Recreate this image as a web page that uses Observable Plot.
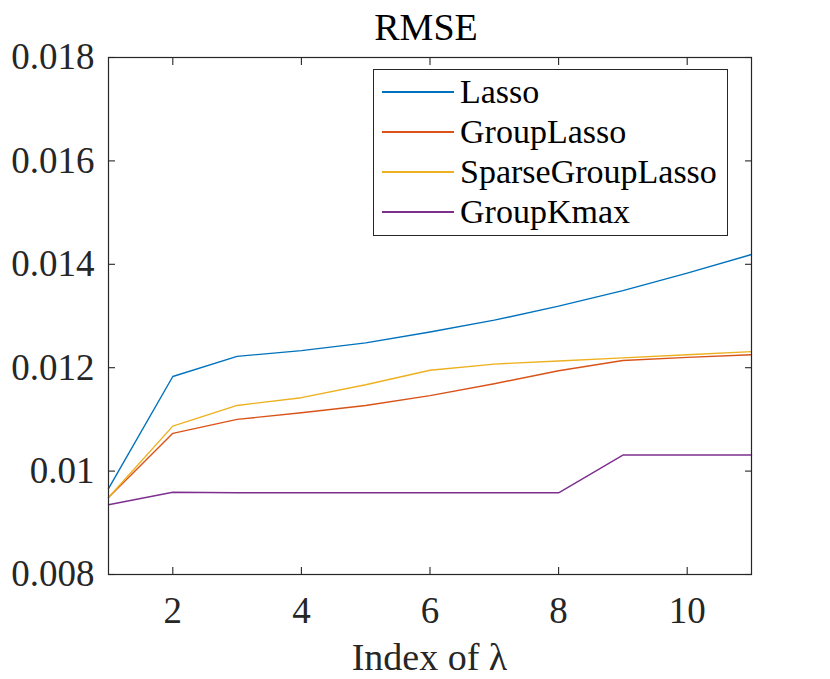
<!DOCTYPE html>
<html>
<head>
<meta charset="utf-8">
<script src="https://cdn.jsdelivr.net/npm/d3@7"></script>
<script src="https://cdn.jsdelivr.net/npm/@observablehq/plot@0.6"></script>
<style>
  html, body { margin: 0; padding: 0; background: #fff; }
  #wrap { position: relative; width: 830px; height: 679px; font-family: 'Liberation Serif', serif; color: #000; }
  #title { position: absolute; left: 0; width: 852px; top: 6px; text-align: center; font-size: 38px; line-height: 42px; }
  #xlabel { position: absolute; left: 0; width: 859px; top: 636px; text-align: center; font-size: 38px; line-height: 42px; color: #262626; }
  #legend { position: absolute; left: 373px; top: 69px; width: 355px; height: 167px; border: 1px solid #262626; background: #fff; box-sizing: border-box; }
  .row { position: absolute; left: 8px; height: 40px; display: flex; align-items: center; }
  .row .sw { width: 72px; height: 1.5px; margin-right: 6px; }
  .row .lb { font-size: 34px; line-height: 40px; white-space: nowrap; }
</style>
</head>
<body>
<div id="wrap">
  <div id="chart"></div>
  <div id="title">RMSE</div>
  <div id="xlabel">Index of λ</div>
  <div id="legend"></div>
</div>
<script>
const xIndex = [1, 2, 3, 4, 5, 6, 7, 8, 9, 10, 11];
const lasso = [0.00966, 0.01183, 0.01222, 0.01233, 0.01248, 0.01269, 0.01292, 0.01319, 0.01349, 0.01383, 0.01419];
const groupLasso = [0.00949, 0.01073, 0.01100, 0.01113, 0.01127, 0.01146, 0.01169, 0.01194, 0.01214, 0.01220, 0.01225];
const sparseGroupLasso = [0.00949, 0.01087, 0.01127, 0.01142, 0.01167, 0.01195, 0.01207, 0.01213, 0.01219, 0.01225, 0.01231];
const groupKmax = [0.00935, 0.00959, 0.00958, 0.00958, 0.00958, 0.00958, 0.00958, 0.00958, 0.01031, 0.01031, 0.01031];
const seriesNames = ["Lasso", "GroupLasso", "SparseGroupLasso", "GroupKmax"];
const seriesColors = ["#0072BD", "#D95319", "#EDB120", "#7E2F8E"];
const xTicks = [2, 4, 6, 8, 10];
const yTicks = [0.008, 0.010, 0.012, 0.014, 0.016, 0.018];
const yTickLabels = ["0.008", "0.01", "0.012", "0.014", "0.016", "0.018"];

const seriesValues = [lasso, groupLasso, sparseGroupLasso, groupKmax];
const rows = [];
seriesNames.forEach((name, i) => {
  xIndex.forEach((x, j) => rows.push({series: name, x, y: seriesValues[i][j]}));
});

const axisColor = "#262626";
const fontStack = "'Liberation Serif', serif";
const chart = Plot.plot({
  width: 830,
  height: 679,
  marginLeft: 108,
  marginRight: 79,
  marginTop: 57,
  marginBottom: 105,
  style: {fontFamily: fontStack, background: "#fff", color: axisColor, overflow: "visible"},
  x: {domain: [1, 11], axis: null},
  y: {domain: [0.008, 0.018], axis: null},
  color: {domain: seriesNames, range: seriesColors},
  marks: [
    Plot.line(rows, {x: "x", y: "y", z: "series", stroke: "series", strokeWidth: 1.4}),
    Plot.frame({stroke: axisColor, strokeWidth: 1.2}),
    Plot.axisX(xTicks, {anchor: "bottom", tickSize: 7, dy: -7, tickFormat: () => "", label: null, stroke: axisColor, strokeWidth: 1.1}),
    Plot.axisX(xTicks, {anchor: "top", tickSize: 7, dy: 7, tickFormat: () => "", label: null, stroke: axisColor, strokeWidth: 1.1}),
    Plot.axisY(yTicks, {anchor: "left", tickSize: 7, dx: 7, tickFormat: () => "", label: null, stroke: axisColor, strokeWidth: 1.1}),
    Plot.axisY(yTicks, {anchor: "right", tickSize: 7, dx: -7, tickFormat: () => "", label: null, stroke: axisColor, strokeWidth: 1.1}),
    Plot.axisX(xTicks, {anchor: "bottom", tickSize: 0, tickPadding: 22, fontSize: 37, fill: axisColor, label: null}),
    Plot.axisY(yTicks, {anchor: "left", tickSize: 0, tickPadding: 14, fontSize: 37, fill: axisColor, label: null,
      tickFormat: (d) => yTickLabels[yTicks.indexOf(d)]})
  ]
});
document.getElementById("chart").appendChild(chart);

const legend = document.getElementById("legend");
const rowTops = [2, 42, 82, 122];
seriesNames.forEach((name, i) => {
  const r = document.createElement("div");
  r.className = "row";
  r.style.top = rowTops[i] + "px";
  const sw = document.createElement("div");
  sw.className = "sw";
  sw.style.background = seriesColors[i];
  const lb = document.createElement("div");
  lb.className = "lb";
  lb.textContent = name;
  r.appendChild(sw);
  r.appendChild(lb);
  legend.appendChild(r);
});
</script>
</body>
</html>
